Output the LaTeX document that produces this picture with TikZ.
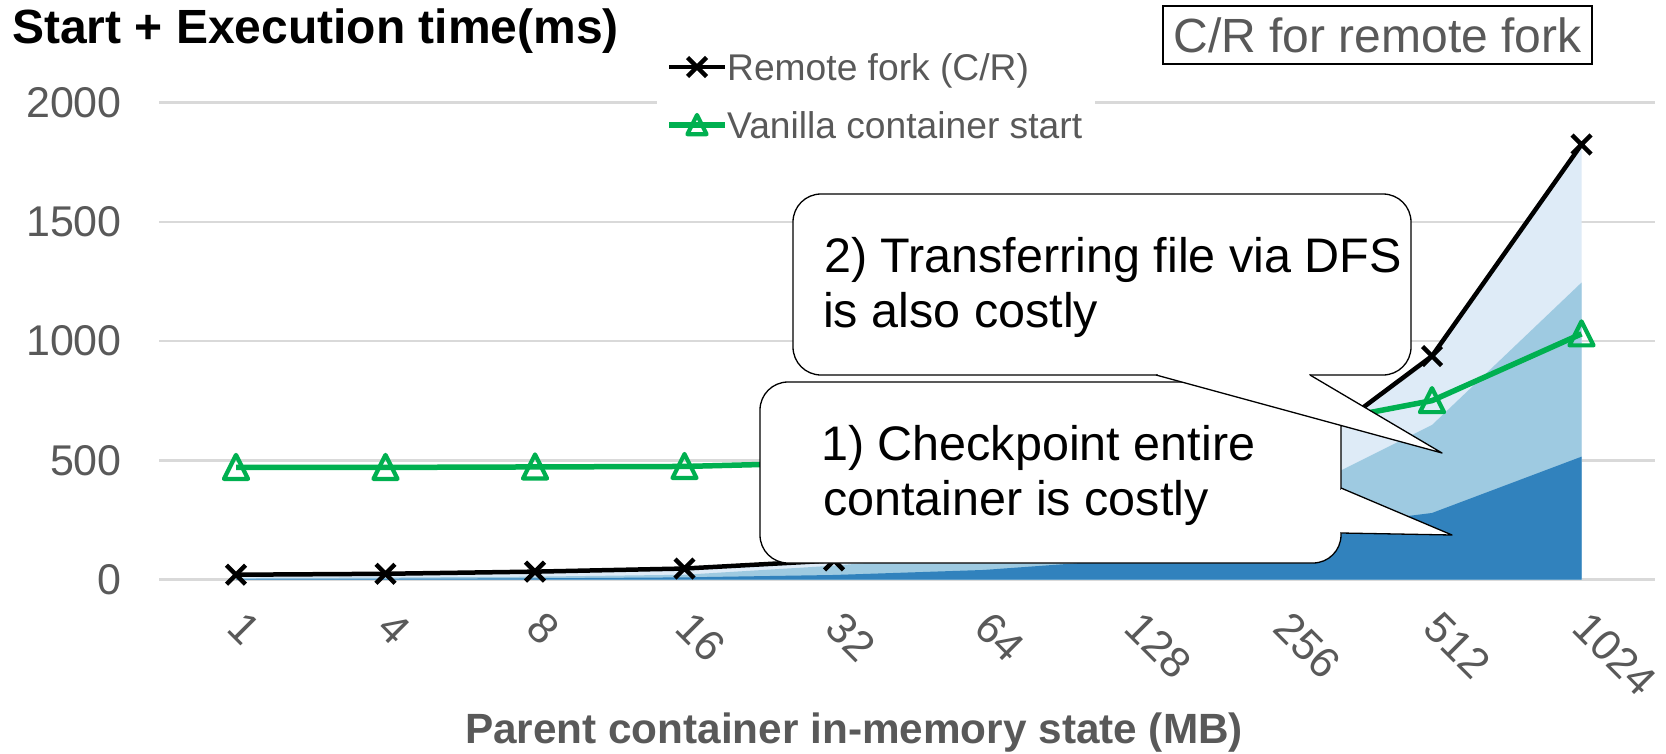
\documentclass[tikz,border=0pt]{standalone}
\usepackage{fontspec}
\setmainfont{Liberation Sans}
\definecolor{axisgray}{HTML}{595959}
\definecolor{gridgray}{HTML}{D9D9D9}
\definecolor{vanillagreen}{HTML}{00B050}
\definecolor{blueDark}{HTML}{3182BD}
\definecolor{blueMid}{HTML}{9ECAE1}
\definecolor{blueLight}{HTML}{DEEBF7}

\tikzset{
  gridline/.style={draw=gridgray, line width=2.5pt},
  yticklabel/.style={text=axisgray, inner sep=0pt, font=\fontsize{43}{50}\selectfont},
  xticklabel/.style={text=axisgray, inner sep=0pt, font=\fontsize{43}{50}\selectfont},
  forkline/.style={draw=black, line width=4.5pt, line join=round},
  vanillaline/.style={draw=vanillagreen, line width=5.5pt, line join=round},
  bubble/.style={fill=white, draw=black, line width=1.3pt, rounded corners=28pt},
  bubbleedge/.style={draw=black, line width=1.3pt, line join=round},
  bubbletext/.style={inner sep=0pt, anchor=base west, font=\fontsize{48.5}{56}\selectfont},
  legendtext/.style={inner sep=0pt, anchor=base west, text=axisgray, font=\fontsize{37.2}{44}\selectfont},
  xmark/.pic={\draw[line width=4.5pt, black] (-9.5,-9.5) -- (9.5,9.5) (-9.5,9.5) -- (9.5,-9.5);},
  trimark/.pic={\draw[line width=4.2pt, vanillagreen, line join=round] (0,-12.5) -- (12,11.5) -- (-12,11.5) -- cycle;},
}

\begin{document}
\begin{tikzpicture}[x=1pt, y=-1pt]
\fill[white] (0,0) rectangle (1666,753);
\useasboundingbox (0,0) rectangle (1666,753);

% horizontal grid and value axis labels
\foreach \v/\yy in {0/579.5, 500/460.25, 1000/341, 1500/221.75, 2000/102.5} {
  \draw[gridline] (159,\yy) -- (1655,\yy);
  \node[yticklabel, anchor=east] (ytick\v) at (122,\yy) {\v};
}

% data points (x in px, y in ms)
\begin{scope}[shift={(0,579.5)}, y={(0pt,0.2385pt)}]
\foreach \i/\xx/\d/\m/\t/\g in {
  1/236/2/6/20/470,
  2/385.5/3/8/24/470,
  3/535/5/12/33/472,
  4/684.5/9/20/46/474,
  5/834/19/58/80/490,
  6/983.5/40/110/150/495,
  7/1133/85/200/290/500,
  8/1282.5/200/335/469/630,
  9/1432/279/648/937/750,
  10/1581.5/515/1245/1824/1030} {
  \coordinate (z\i) at (\xx,0);
  \coordinate (d\i) at (\xx,\d);
  \coordinate (m\i) at (\xx,\m);
  \coordinate (t\i) at (\xx,\t);
  \coordinate (g\i) at (\xx,\g);
}
\end{scope}

% stacked breakdown of the remote fork time
\fill[blueLight] (z1) \foreach \i in {1,...,10}{ -- (t\i)} -- (z10) -- cycle;
\fill[blueMid] (z1) \foreach \i in {1,...,10}{ -- (m\i)} -- (z10) -- cycle;
\fill[blueDark] (z1) \foreach \i in {1,...,10}{ -- (d\i)} -- (z10) -- cycle;

% series lines and markers
\draw[forkline] (t1) \foreach \i in {2,...,10}{ -- (t\i)};
\foreach \i in {1,...,10} {\pic at (t\i) {xmark};}
\draw[vanillaline] (g1) \foreach \i in {2,...,10}{ -- (g\i)};
\foreach \i in {1,...,10} {\pic at (g\i) {trimark};}

% category labels
\foreach \i/\xx/\lab in {1/236/1, 2/385.5/4, 3/535/8, 4/684.5/16, 5/834/32,
    6/983.5/64, 7/1133/128, 8/1282.5/256, 9/1432/512, 10/1581.5/1024} {
  \node[xticklabel, rotate=-45, anchor=north west] (xtick\i) at (\xx+10.5,609) {\lab};
}

% callout 1
\draw[bubble] (760,382) rectangle (1341,563);
\fill[white] (1341,488) -- (1452,535) -- (1341,533) -- cycle;
\fill[white] (1338,489.5) rectangle (1344,531.5);
\draw[bubbleedge] (1341,488) -- (1452,535) -- (1341,533);
\node[bubbletext] (cp1a) at (821,460) {1) Checkpoint entire};
\node[bubbletext] (cp1b) at (823,515) {container is costly};

% callout 2
\draw[bubble] (793,194) rectangle (1411,375);
\fill[white] (1156,375) -- (1442,453) -- (1310,375) -- cycle;
\fill[white] (1157.5,372) rectangle (1308.5,377.5);
\draw[bubbleedge] (1156,375) -- (1442,453) -- (1310,375);
\node[bubbletext] (cp2a) at (824,272) {2) Transferring file via DFS};
\node[bubbletext] (cp2b) at (823,327) {is also costly};

% legend
\fill[white] (657,42) rectangle (1095,150);
\draw[forkline] (669,67) -- (725,67);
\pic at (697,67) {xmark};
\node[legendtext] (legfork) at (727,80) {Remote fork (C/R)};
\draw[vanillaline] (669,125) -- (725,125);
\pic[scale=0.8] at (697,125) {trimark};
\node[legendtext] (legvanilla) at (727,138) {Vanilla container start};

% titles
\node[anchor=base west, inner sep=0pt, font=\fontsize{48}{56}\selectfont\bfseries] (title) at (12,43.5) {Start + Execution time(ms)};
\node[anchor=base, inner sep=0pt, text=axisgray, font=\fontsize{42.3}{50}\selectfont\bfseries] (xtitle) at (854,743) {Parent container in-memory state (MB)};
\node[draw=black, line width=2pt, minimum width=429pt, minimum height=58pt, inner sep=0pt,
      text=axisgray, font=\fontsize{48}{56}\selectfont] (crbox) at (1377.5,35) {C/R for remote fork};
\end{tikzpicture}
\end{document}
